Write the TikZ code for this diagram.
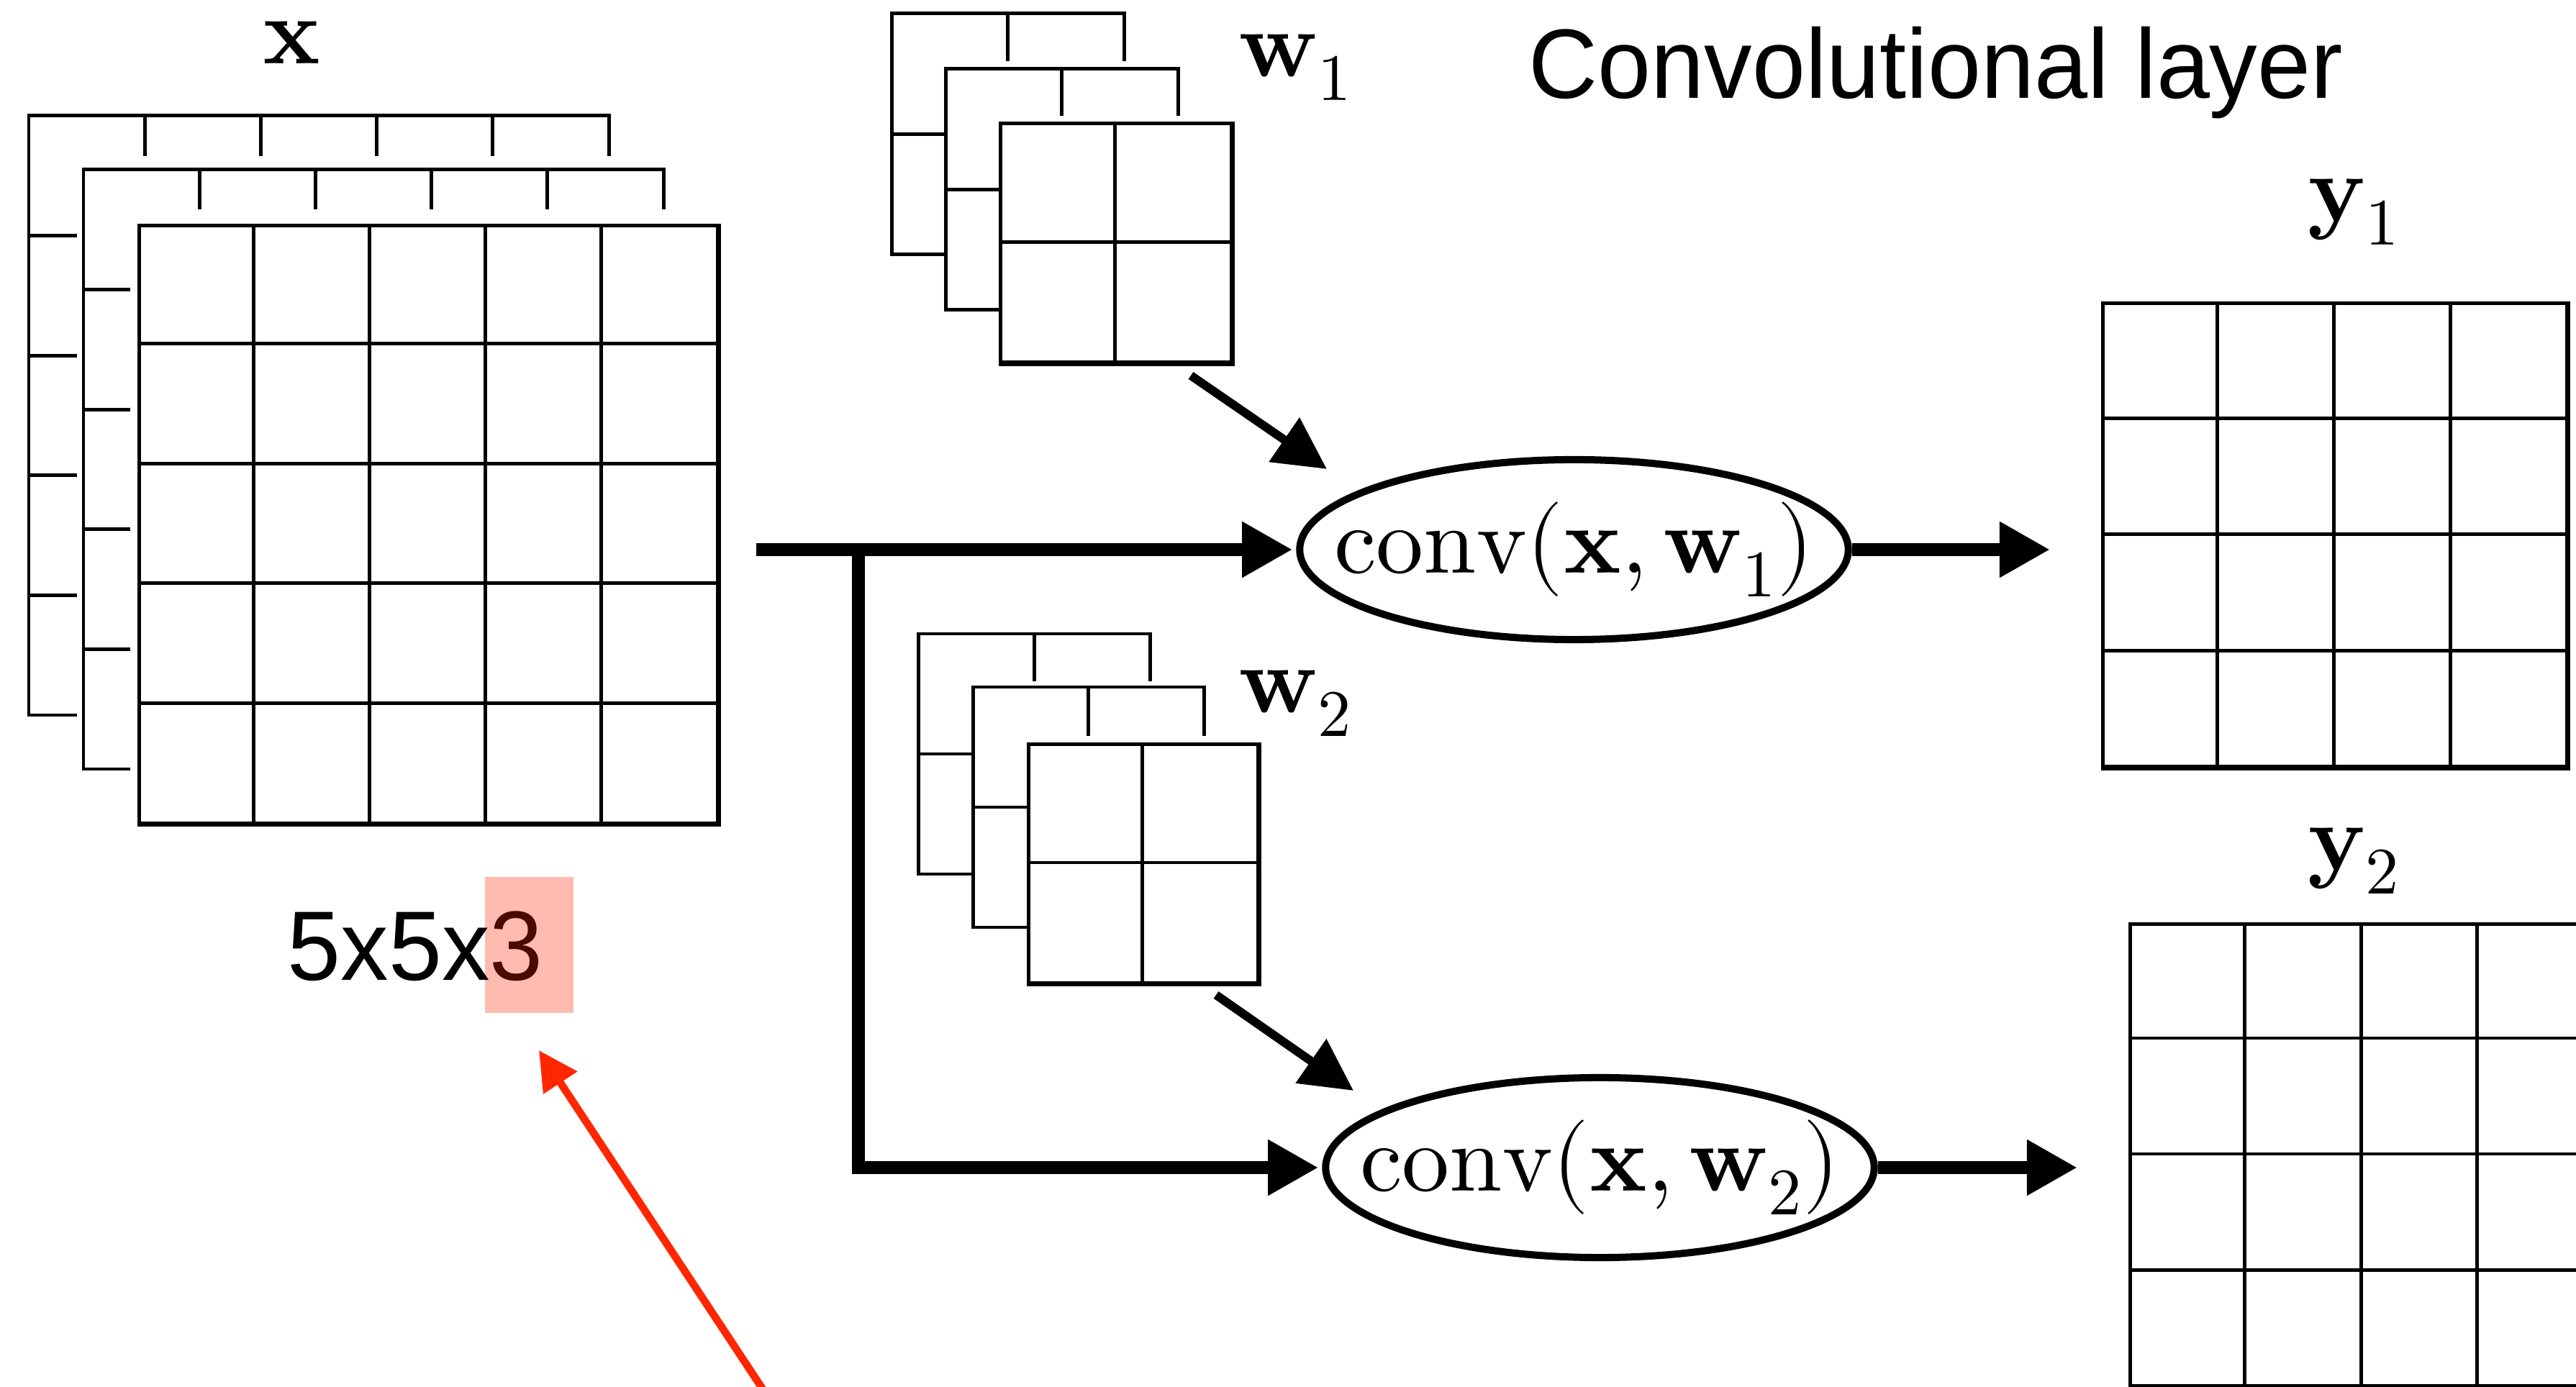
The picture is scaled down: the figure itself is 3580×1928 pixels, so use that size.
\documentclass[tikz,border=0pt]{standalone}
\usepackage{fontspec}
\usepackage{unicode-math}
\setmainfont{lmroman10-regular.otf}[BoldFont=lmroman10-bold.otf, ItalicFont=lmroman10-italic.otf, BoldItalicFont=lmroman10-bolditalic.otf]
\setmathfont{Latin Modern Math}
\newfontfamily\labelfont[FakeStretch=0.97]{Liberation Sans}
\usetikzlibrary{arrows.meta,shapes.geometric}
\definecolor{hlpink}{HTML}{FFBBAF}
\definecolor{hlthree}{HTML}{4A0A00}
\definecolor{annored}{HTML}{FF2600}

\tikzset{
  gridline/.style={line width=1.42pt},
  gridbox/.style={draw, line width=1.42pt, rectangle, inner sep=0pt, anchor=north west},
  mathlbl/.style={font=\fontsize{37.5pt}{45pt}\selectfont, inner sep=0pt, anchor=base west},
  convtext/.style={font=\fontsize{37.5pt}{45pt}\selectfont, inner sep=0pt},
  sanslbl/.style={font=\labelfont\fontsize{39pt}{47pt}\selectfont, inner sep=0pt, anchor=base west},
  hlbox/.style={fill=hlpink, rectangle, inner sep=0pt, anchor=north west, minimum width=1.235cm, minimum height=1.895cm},
  convnode/.style={ellipse, draw, line width=2.85pt, minimum width=7.62cm, minimum height=2.5cm, inner sep=0pt},
  mainarrow/.style={line width=5.12pt, -{Triangle[length=0.70cm,width=0.73cm]}},
  diagarrow/.style={line width=3.4pt, -{Triangle[length=0.72cm,width=0.72cm]}},
  redarrow/.style={annored, line width=3pt, -{Triangle[length=0.54cm,width=0.54cm]}},
}

% back layer of a stack: x0,y0,ncols,nrows,cw,ch,toptick,lefttick
\newcommand\backlayer[8]{%
  \draw[gridline] ({#1+#8},{#2+#4*#6}) -- (#1,{#2+#4*#6}) -- (#1,#2) -- ({#1+#3*#5},#2) -- ({#1+#3*#5},{#2+#7});
  \foreach \k in {1,...,#3}{\draw[gridline] ({#1+\k*#5},#2) -- ({#1+\k*#5},{#2+#7});}
  \foreach \k in {1,...,#4}{\draw[gridline] (#1,{#2+\k*#6}) -- ({#1+#8},{#2+\k*#6});}
}
% full grid: name,x0,y0,ncols,nrows,cw,ch
\newcommand\frontgrid[7]{%
  \node[gridbox, minimum width={#4*#6*0.01cm}, minimum height={#5*#7*0.01cm}] (#1) at (#2,#3) {};
  \foreach \k in {1,...,#4}{\draw[gridline] ({#2+\k*#6},#3) -- ({#2+\k*#6},{#3+#5*#7});}
  \foreach \k in {1,...,#5}{\draw[gridline] (#2,{#3+\k*#7}) -- ({#2+#4*#6},{#3+\k*#7});}
}

\begin{document}
\begin{tikzpicture}[x=0.01cm, y=-0.01cm]
\useasboundingbox (0,0) rectangle (3580,1928);
\fill[white] (0,0) rectangle (3580,1928);
\clip (0,0) rectangle (3580,1928);

% input x (5x5x3)
\backlayer{40}{161}{5}{5}{161.2}{166.6}{56}{67}
\backlayer{116}{236}{5}{5}{161.2}{166.6}{55}{65}
\frontgrid{xgrid}{191}{311}{5}{5}{161.2}{166.6}

% filter w1
\backlayer{1239}{19}{2}{2}{161.5}{167.5}{66}{73}
\backlayer{1314}{96}{2}{2}{161.5}{167.5}{65}{74}
\frontgrid{wonegrid}{1388}{169}{2}{2}{161.5}{167.5}

% filter w2
\backlayer{1276.5}{881}{2}{2}{160.75}{167}{66.5}{73.5}
\backlayer{1352}{955}{2}{2}{160.75}{167}{68}{74.5}
\frontgrid{wtwogrid}{1426.5}{1032}{2}{2}{160.75}{167}

% outputs
\frontgrid{yonegrid}{2920}{419.5}{4}{4}{161.75}{161.6}
\frontgrid{ytwogrid}{2958}{1282}{4}{4}{161.5}{161}

% labels
\node[mathlbl] (xlbl) at (365,89) {$\mathbf{x}$};
\node[mathlbl] (wonelbl) at (1721,107) {$\mathbf{w}_1$};
\node[mathlbl] (wtwolbl) at (1721,991) {$\mathbf{w}_2$};
\node[mathlbl] (yonelbl) at (3207,308) {$\mathbf{y}_1$};
\node[mathlbl] (ytwolbl) at (3207,1210) {$\mathbf{y}_2$};
\node[sanslbl] (title) at (2124,137) {Convolutional layer};
\node[hlbox] (hl) at (673,1218) {};
\node[sanslbl] (dims) at (399,1363) {5x5x\textcolor{hlthree}{3}};

% convolution nodes
\node[convnode] (e1) at (2187.5,764) {};
\node[convtext] (t1) at (e1.center) {$\mathrm{conv}(\mathbf{x}, \mathbf{w}_1)$};
\node[convnode] (e2) at (2223.5,1623) {};
\node[convtext] (t2) at (e2.center) {$\mathrm{conv}(\mathbf{x}, \mathbf{w}_2)$};

% connector end points
\coordinate (in) at (1051,764);
\coordinate (branch) at (1193,764);
\coordinate (o1) at (2849,764);
\coordinate (o2) at (2887,1623);
\coordinate (d1s) at (1655,522);
\coordinate (d1e) at (1844,652);
\coordinate (d2s) at (1690,1383);
\coordinate (d2e) at (1881,1516);
\coordinate (rs) at (1099,1990);
\coordinate (re) at (749,1460);

% connectors
\draw[mainarrow] (in) -- ([xshift=-0.05cm]e1.west);
\draw[mainarrow] (branch) |- ([xshift=-0.05cm]e2.west);
\draw[mainarrow] (e1.east) -- (o1);
\draw[mainarrow] (e2.east) -- (o2);
\draw[diagarrow] (d1s) -- (d1e);
\draw[diagarrow] (d2s) -- (d2e);
\draw[redarrow] (rs) -- (re);
\end{tikzpicture}
\end{document}
